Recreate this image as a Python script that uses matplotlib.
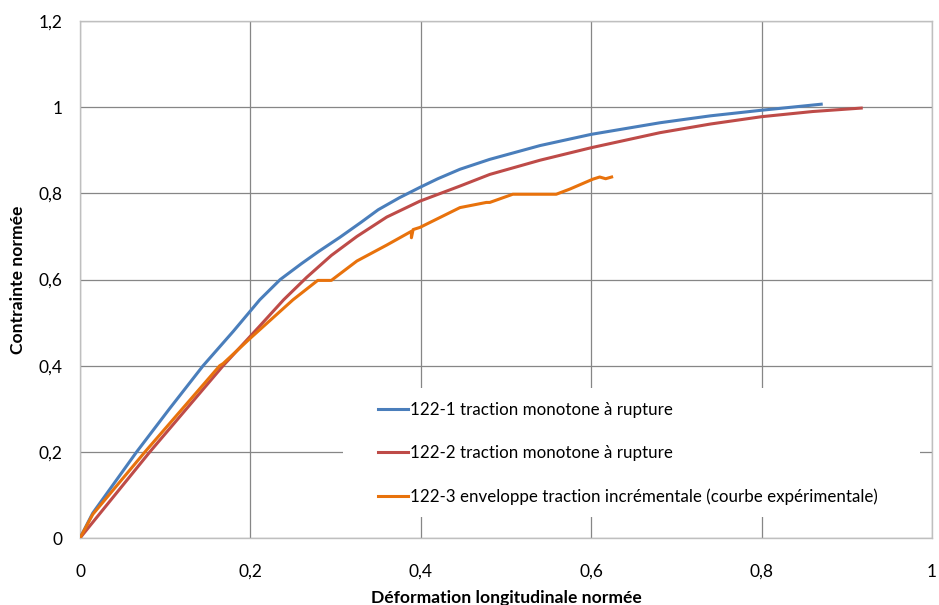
import matplotlib
matplotlib.use('Agg')
import matplotlib.pyplot as plt
from matplotlib.patches import Rectangle

plt.rcParams['font.family'] = ['Lato', 'DejaVu Sans']

# courbes (deformation normee, contrainte normee)
x_1 = [0, 0.015, 0.0665, 0.105, 0.1445, 0.18, 0.211, 0.235, 0.26, 0.28, 0.305,
       0.33, 0.35, 0.375, 0.399, 0.42, 0.446, 0.481, 0.54, 0.6, 0.681, 0.74,
       0.8, 0.870]
y_1 = [0, 0.058, 0.2, 0.3, 0.4, 0.48, 0.553, 0.6, 0.637, 0.665, 0.698,
       0.733, 0.762, 0.79, 0.814, 0.834, 0.856, 0.879, 0.911, 0.937, 0.964, 0.98,
       0.993, 1.007]

x_2 = [0, 0.082, 0.168, 0.21, 0.239, 0.266, 0.295, 0.325, 0.36, 0.399, 0.446,
       0.481, 0.54, 0.6, 0.681, 0.74, 0.8, 0.86, 0.917]
y_2 = [0, 0.2, 0.4, 0.49, 0.553, 0.605, 0.656, 0.70, 0.745, 0.782, 0.817,
       0.844, 0.877, 0.906, 0.941, 0.961, 0.978, 0.99, 0.998]

x_3 = [0, 0.015, 0.0763, 0.164, 0.168, 0.2, 0.25, 0.279, 0.295, 0.325, 0.36,
       0.389, 0.389, 0.391, 0.399, 0.4225, 0.446, 0.477, 0.481, 0.508, 0.559,
       0.575, 0.602, 0.61, 0.617, 0.624]
y_3 = [0, 0.055, 0.2, 0.4, 0.405, 0.464, 0.553, 0.598, 0.598, 0.643, 0.68,
       0.712, 0.697, 0.716, 0.721, 0.744, 0.767, 0.779, 0.779, 0.798, 0.798,
       0.81, 0.833, 0.838, 0.834, 0.838]

labels = ['122-1 traction monotone à rupture',
          '122-2 traction monotone à rupture',
          '122-3 enveloppe traction incrémentale (courbe expérimentale)']

x_ticks = [0, 0.2, 0.4, 0.6, 0.8, 1]
x_tick_labels = ['0', '0,2', '0,4', '0,6', '0,8', '1']
y_ticks = [0, 0.2, 0.4, 0.6, 0.8, 1, 1.2]
y_tick_labels = ['0', '0,2', '0,4', '0,6', '0,8', '1', '1,2']

fig = plt.figure(figsize=(9.39, 6.05), dpi=100)
ax = fig.add_axes([0.0852, 0.1107, 0.9073, 0.8545])

ax.plot(x_1, y_1, color='#4A7EBB', lw=2.2, label=labels[0], zorder=3)
ax.plot(x_2, y_2, color='#BE4B48', lw=2.2, label=labels[1], zorder=3)
ax.plot(x_3, y_3, color='#E8720C', lw=2.2, label=labels[2], zorder=4)

ax.set_xlim(0, 1)
ax.set_ylim(0, 1.2)
ax.set_xticks(x_ticks)
ax.set_xticklabels(x_tick_labels)
ax.set_yticks(y_ticks)
ax.set_yticklabels(y_tick_labels)
ax.tick_params(length=0, labelsize=12.5)
ax.tick_params(axis='y', pad=12.5)
ax.tick_params(axis='x', pad=18.5)

ax.set_axisbelow(True)
ax.grid(True, color='#868686', lw=0.9)
for s in ax.spines.values():
    s.set_color('#BFBFBF')
    s.set_linewidth(1.0)

ax.set_xlabel('Déformation longitudinale normée', fontsize=12.6, fontweight='bold', labelpad=7.5)
ax.set_ylabel('Contrainte normée', fontsize=12.6, fontweight='bold', labelpad=9)

# fond blanc de la legende (cache la grille)
ax.add_patch(Rectangle((0.309, 0.041), 0.677, 0.25, transform=ax.transAxes,
                       facecolor='white', edgecolor='none', zorder=2))
ax.legend(loc='upper left', bbox_to_anchor=(0.35, 0.263), frameon=False,
          fontsize=12.2, handlelength=1.75, handletextpad=0.12, labelspacing=1.59,
          borderpad=0, borderaxespad=0)

fig.savefig('out.png', dpi=100)
